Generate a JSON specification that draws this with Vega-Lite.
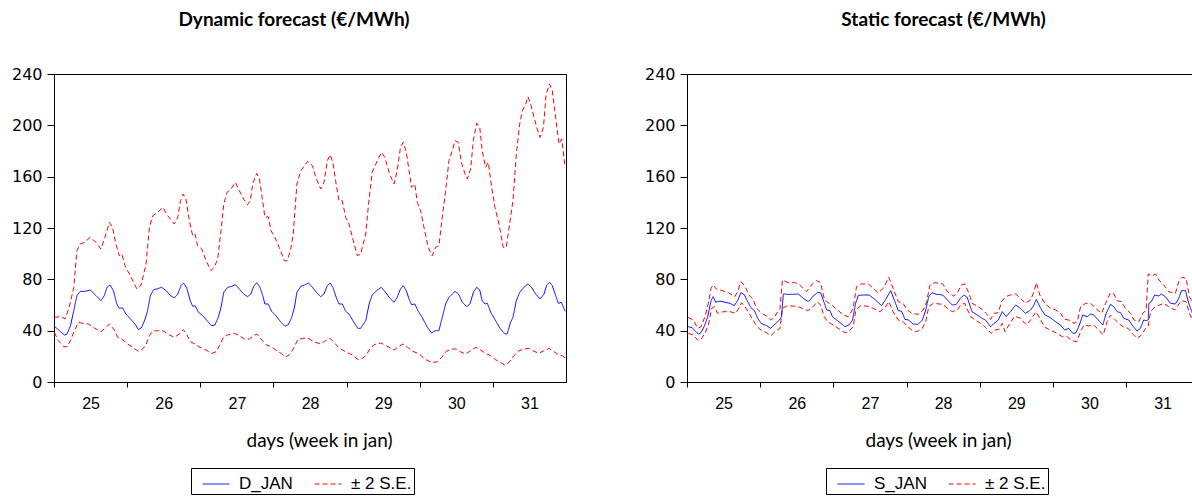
{
"$schema": "https://vega.github.io/schema/vega-lite/v6.json",
"padding": {"left": 10, "top": 10, "right": 0, "bottom": 0},
"background": "white",
"spacing": 76,
"config": {
  "view": {"stroke": "black", "strokeWidth": 1},
  "axis": {"grid": false, "domainColor": "black", "tickColor": "black", "labelColor": "black", "domainWidth": 1, "tickWidth": 1, "titleColor": "black"}
},
"resolve": {"scale": {"color": "independent", "strokeDash": "independent"}, "legend": {"color": "independent", "strokeDash": "independent"}},
"datasets": {
"dUp": [{"h":0.1,"v":50.4},{"h":2.3,"v":50.9},{"h":3.6,"v":49.1},{"h":5,"v":58.2},{"h":6.5,"v":73.8},{"h":7.5,"v":102.3},{"h":8.6,"v":107.5},{"h":10,"v":108.8},{"h":11.9,"v":112.7},{"h":13.8,"v":108.8},{"h":15.4,"v":103.6},{"h":16.7,"v":112.7},{"h":18.2,"v":124.4},{"h":19.2,"v":120.5},{"h":20.3,"v":107.5},{"h":21.4,"v":98.4},{"h":22.3,"v":99.7},{"h":23.3,"v":90.6},{"h":25.3,"v":81.6},{"h":27.2,"v":72.5},{"h":28.5,"v":75.1},{"h":30.2,"v":91.9},{"h":31.3,"v":120.5},{"h":32.4,"v":129.6},{"h":34,"v":132.2},{"h":35.7,"v":136.1},{"h":37.3,"v":129.6},{"h":39.5,"v":123.1},{"h":40.6,"v":128.3},{"h":41.5,"v":141.3},{"h":42.4,"v":146.5},{"h":43.3,"v":142.6},{"h":44.4,"v":125.7},{"h":45.5,"v":114},{"h":46.3,"v":115.3},{"h":47.1,"v":106.2},{"h":48.5,"v":103.6},{"h":49.9,"v":94.5},{"h":51.5,"v":86.8},{"h":52.6,"v":89.4},{"h":53.7,"v":95.8},{"h":54.8,"v":117.9},{"h":55.7,"v":138.7},{"h":56.8,"v":147.8},{"h":58.1,"v":150.4},{"h":59.5,"v":155.6},{"h":60.8,"v":149.1},{"h":62.2,"v":142.6},{"h":63.5,"v":138.2},{"h":64.4,"v":141.3},{"h":65.2,"v":154.3},{"h":66.5,"v":162.6},{"h":67.4,"v":158.2},{"h":68.3,"v":143.9},{"h":69.2,"v":128.3},{"h":70.3,"v":128.8},{"h":71.2,"v":117.9},{"h":72.5,"v":112.7},{"h":73.9,"v":104.9},{"h":75.6,"v":94.5},{"h":76.5,"v":94.5},{"h":77.6,"v":102.3},{"h":78.5,"v":115.3},{"h":79.7,"v":154.3},{"h":81,"v":164.7},{"h":83.2,"v":171.9},{"h":84.8,"v":168.6},{"h":85.9,"v":159.5},{"h":87.5,"v":150.4},{"h":88.6,"v":155.6},{"h":89.7,"v":172.5},{"h":90.6,"v":177.1},{"h":91.5,"v":171.2},{"h":92.4,"v":156.9},{"h":93.5,"v":141.3},{"h":94.6,"v":141.3},{"h":95.7,"v":128.3},{"h":96.8,"v":123.1},{"h":98.2,"v":110.1},{"h":99.5,"v":98.4},{"h":100.6,"v":99.7},{"h":102.3,"v":115.3},{"h":103.1,"v":136.1},{"h":104.4,"v":163.4},{"h":106.1,"v":172.5},{"h":107.5,"v":179},{"h":108.6,"v":174.8},{"h":110.1,"v":162.1},{"h":111.6,"v":154.3},{"h":112.6,"v":164.7},{"h":113.7,"v":182.9},{"h":114.6,"v":186.8},{"h":115.6,"v":179},{"h":116.5,"v":164.7},{"h":117.3,"v":151.7},{"h":118.4,"v":154.3},{"h":119.2,"v":140},{"h":120.3,"v":133.5},{"h":121.4,"v":120.5},{"h":122.8,"v":104.9},{"h":124.1,"v":98.4},{"h":125.2,"v":104.9},{"h":126.3,"v":106.2},{"h":127.4,"v":128.3},{"h":128.5,"v":149.1},{"h":129.6,"v":172.5},{"h":130.7,"v":180.3},{"h":131.6,"v":188.1},{"h":132.6,"v":186.8},{"h":133.8,"v":169.9},{"h":134.9,"v":162.1},{"h":135.6,"v":158.2},{"h":136.7,"v":166},{"h":137.6,"v":188.1},{"h":138.7,"v":201.6},{"h":139.7,"v":198.4},{"h":140.5,"v":180.3},{"h":141.6,"v":167.3},{"h":142.5,"v":171.2},{"h":143.6,"v":151.7},{"h":144.7,"v":136.1},{"h":146,"v":123.1},{"h":147.4,"v":104.9},{"h":148.4,"v":104.9},{"h":149.5,"v":123.1},{"h":150.6,"v":141.3},{"h":151.7,"v":177.7},{"h":152.8,"v":201},{"h":153.7,"v":211.4},{"h":154.8,"v":216.6},{"h":155.5,"v":222.3},{"h":156.4,"v":216.6},{"h":157.5,"v":206.2},{"h":158.4,"v":198.4},{"h":159.5,"v":190.6},{"h":160.6,"v":198.4},{"h":161.5,"v":224.4},{"h":162.6,"v":232.2},{"h":163.5,"v":227},{"h":164.6,"v":206.2},{"h":165.7,"v":185.5},{"h":166.6,"v":189.4},{"h":167.7,"v":167.3}],
"dMid": [{"h":0.1,"v":43.4},{"h":1.8,"v":40},{"h":3.4,"v":36.6},{"h":4.3,"v":37.4},{"h":5.4,"v":43.9},{"h":6.5,"v":55.6},{"h":7.5,"v":67.3},{"h":8.6,"v":70.6},{"h":10,"v":70.6},{"h":11.9,"v":71.7},{"h":13.8,"v":67.3},{"h":15.4,"v":63.4},{"h":16.5,"v":67.3},{"h":17.4,"v":73.8},{"h":18.4,"v":75.6},{"h":19.5,"v":71.2},{"h":20.6,"v":60.8},{"h":21.4,"v":57.4},{"h":22.5,"v":57.7},{"h":23.6,"v":53},{"h":25.3,"v":48.6},{"h":26.6,"v":45.2},{"h":27.7,"v":40.8},{"h":28.8,"v":42.6},{"h":29.9,"v":49.1},{"h":30.7,"v":55.6},{"h":31.6,"v":67.3},{"h":32.7,"v":71.9},{"h":34,"v":72.7},{"h":35.3,"v":73.8},{"h":36.8,"v":71.2},{"h":38.2,"v":67.3},{"h":39.5,"v":65.5},{"h":40.6,"v":68.6},{"h":41.7,"v":75.1},{"h":42.5,"v":77.1},{"h":43.5,"v":73.8},{"h":44.7,"v":63.4},{"h":45.5,"v":59},{"h":46.3,"v":59.5},{"h":47.4,"v":54.3},{"h":48.8,"v":51.7},{"h":50.2,"v":47.8},{"h":51.7,"v":43.9},{"h":52.8,"v":44.4},{"h":53.9,"v":50.4},{"h":54.8,"v":58.2},{"h":55.7,"v":69.9},{"h":57,"v":73.8},{"h":58.3,"v":74.5},{"h":59.5,"v":75.8},{"h":60.8,"v":72.5},{"h":62.2,"v":68.6},{"h":63.5,"v":66.5},{"h":64.6,"v":68.6},{"h":65.5,"v":74.5},{"h":66.5,"v":77.4},{"h":67.5,"v":74.3},{"h":68.5,"v":67.3},{"h":69.2,"v":60.8},{"h":70.3,"v":60.8},{"h":71.4,"v":55.1},{"h":72.8,"v":51.7},{"h":74.5,"v":46.5},{"h":75.8,"v":43.4},{"h":76.9,"v":44.7},{"h":78,"v":50.4},{"h":78.9,"v":58.2},{"h":79.7,"v":69.9},{"h":81,"v":74.5},{"h":82.2,"v":75.6},{"h":83.5,"v":77.1},{"h":84.8,"v":73.8},{"h":86.1,"v":69.9},{"h":87.5,"v":66.5},{"h":88.6,"v":68.6},{"h":89.7,"v":75.1},{"h":90.6,"v":77.1},{"h":91.5,"v":73.8},{"h":92.6,"v":66},{"h":93.5,"v":60.8},{"h":94.6,"v":60.8},{"h":95.7,"v":55.1},{"h":96.8,"v":53},{"h":98.4,"v":46.5},{"h":99.7,"v":41.8},{"h":100.6,"v":41.8},{"h":102.3,"v":47.8},{"h":103.4,"v":60.8},{"h":104.4,"v":67.8},{"h":105.9,"v":71.2},{"h":107.4,"v":73.8},{"h":108.8,"v":69.9},{"h":110.1,"v":65.5},{"h":111.6,"v":62.1},{"h":112.6,"v":66},{"h":113.7,"v":72.5},{"h":114.6,"v":75.1},{"h":115.6,"v":71.2},{"h":116.5,"v":64.7},{"h":117.3,"v":60.3},{"h":118.4,"v":60.8},{"h":119.5,"v":55.1},{"h":120.8,"v":50.4},{"h":122.5,"v":42.6},{"h":123.9,"v":38.2},{"h":125,"v":40},{"h":126.3,"v":40},{"h":127.4,"v":50.4},{"h":128.5,"v":60.8},{"h":129.6,"v":66},{"h":130.7,"v":68.6},{"h":131.6,"v":70.6},{"h":132.7,"v":68.6},{"h":134,"v":62.1},{"h":135.4,"v":58.7},{"h":136.5,"v":60.8},{"h":137.6,"v":69.9},{"h":138.7,"v":73.8},{"h":139.7,"v":71.7},{"h":140.5,"v":63.4},{"h":141.4,"v":60.8},{"h":142.2,"v":61.3},{"h":143.3,"v":54.3},{"h":144.9,"v":47.8},{"h":146.5,"v":41.3},{"h":148,"v":37.4},{"h":148.7,"v":37.4},{"h":149.8,"v":46.5},{"h":150.6,"v":50.4},{"h":151.7,"v":63.4},{"h":152.8,"v":69.9},{"h":154.2,"v":73.8},{"h":155.5,"v":76.4},{"h":156.7,"v":73.8},{"h":158,"v":68.6},{"h":159.5,"v":64.7},{"h":160.8,"v":68.6},{"h":161.6,"v":75.1},{"h":162.6,"v":77.7},{"h":163.5,"v":75.1},{"h":164.6,"v":67.3},{"h":165.5,"v":61.3},{"h":166.5,"v":62.1},{"h":167.7,"v":55.1}],
"dLo": [{"h":0.1,"v":38.7},{"h":1.4,"v":32.2},{"h":3.2,"v":27.5},{"h":4.3,"v":27.5},{"h":5.4,"v":32.2},{"h":6.7,"v":40},{"h":8,"v":46.5},{"h":9.4,"v":45.7},{"h":11.3,"v":45.2},{"h":13.2,"v":42.1},{"h":15.4,"v":39.2},{"h":16.8,"v":42.1},{"h":18.2,"v":45.2},{"h":19.8,"v":40.5},{"h":20.9,"v":34.8},{"h":22.2,"v":33.5},{"h":24.2,"v":29.6},{"h":26.1,"v":26.5},{"h":27.7,"v":23.9},{"h":29.1,"v":25.7},{"h":30.2,"v":29.1},{"h":31.3,"v":36.1},{"h":32.4,"v":39.7},{"h":34,"v":40},{"h":35.7,"v":40},{"h":37.3,"v":37.4},{"h":39.5,"v":34.8},{"h":41.1,"v":37.4},{"h":42.4,"v":40.8},{"h":43.5,"v":37.4},{"h":44.7,"v":31.4},{"h":46.3,"v":29.6},{"h":47.9,"v":27},{"h":49.9,"v":24.9},{"h":51.7,"v":22.3},{"h":53.2,"v":23.6},{"h":54.3,"v":28.3},{"h":55.6,"v":34.8},{"h":57.2,"v":36.9},{"h":59.2,"v":37.9},{"h":60.8,"v":36.1},{"h":62.5,"v":33.5},{"h":64.1,"v":33.5},{"h":65.5,"v":36.1},{"h":66.6,"v":37.4},{"h":67.9,"v":33.5},{"h":69.6,"v":29.1},{"h":71.2,"v":27.5},{"h":72.8,"v":24.9},{"h":74.5,"v":22.3},{"h":75.9,"v":19.7},{"h":76.9,"v":20.5},{"h":78.3,"v":24.9},{"h":80,"v":33},{"h":81.6,"v":34},{"h":83.2,"v":34.3},{"h":85.3,"v":31.4},{"h":87.5,"v":29.6},{"h":89.1,"v":32.2},{"h":90.6,"v":34},{"h":91.9,"v":30.9},{"h":93.5,"v":26.5},{"h":95.7,"v":23.6},{"h":97.9,"v":21},{"h":99.8,"v":17.4},{"h":101.2,"v":18.4},{"h":102.5,"v":21},{"h":103.6,"v":25.7},{"h":105,"v":29.1},{"h":107.2,"v":30.4},{"h":109,"v":28.3},{"h":111.6,"v":24.9},{"h":113,"v":27.5},{"h":114.5,"v":29.6},{"h":116,"v":27},{"h":117.8,"v":23.9},{"h":119.8,"v":21.8},{"h":121.7,"v":17.9},{"h":123.9,"v":15.1},{"h":125.8,"v":15.8},{"h":127.2,"v":19.2},{"h":128.7,"v":23.9},{"h":130.5,"v":25.7},{"h":131.8,"v":25.7},{"h":133.4,"v":23.6},{"h":135.1,"v":21.8},{"h":136.7,"v":24.4},{"h":138.4,"v":27},{"h":140,"v":24.9},{"h":141.6,"v":22.3},{"h":143.3,"v":20.5},{"h":144.9,"v":17.4},{"h":146.5,"v":15.3},{"h":148,"v":13.2},{"h":149.3,"v":15.3},{"h":150.9,"v":20.5},{"h":152.6,"v":24.4},{"h":154.2,"v":25.7},{"h":155.8,"v":26.2},{"h":157.5,"v":23.9},{"h":159.1,"v":22.3},{"h":160.8,"v":24.4},{"h":162.4,"v":26.2},{"h":164.1,"v":23.6},{"h":165.7,"v":21},{"h":166.8,"v":20.5},{"h":167.7,"v":18.7}],
"sMid": [{"h":0.4,"v":43.1},{"h":1.7,"v":42.3},{"h":2.6,"v":40},{"h":3.7,"v":37.4},{"h":4.6,"v":38.4},{"h":5.7,"v":43.6},{"h":6.8,"v":50.9},{"h":7.9,"v":63.4},{"h":8.6,"v":66.5},{"h":9.4,"v":62.1},{"h":10.8,"v":63.1},{"h":12.5,"v":62.1},{"h":14.1,"v":61.3},{"h":15.5,"v":59.5},{"h":16.6,"v":63.4},{"h":17.7,"v":69.6},{"h":18.8,"v":68.1},{"h":19.9,"v":62.6},{"h":21,"v":57.9},{"h":22.1,"v":55.6},{"h":23.2,"v":49.6},{"h":24.3,"v":45.7},{"h":26.1,"v":43.9},{"h":27.5,"v":41.8},{"h":28.9,"v":45.2},{"h":30.3,"v":48.3},{"h":31,"v":50.9},{"h":31.6,"v":68.6},{"h":33.2,"v":68.3},{"h":34.9,"v":68.3},{"h":36.5,"v":68.6},{"h":38.1,"v":65.2},{"h":39.8,"v":62.6},{"h":41.4,"v":67},{"h":42.8,"v":69.6},{"h":43.8,"v":69.6},{"h":44.7,"v":63.9},{"h":45.8,"v":56.1},{"h":46.9,"v":55.6},{"h":47.7,"v":50.9},{"h":49.1,"v":48.3},{"h":50.5,"v":45.7},{"h":51.8,"v":43.1},{"h":53.1,"v":44.4},{"h":54.3,"v":48.3},{"h":55.3,"v":61.3},{"h":56.2,"v":67.5},{"h":57.8,"v":67.8},{"h":59.7,"v":67.8},{"h":61.6,"v":64.4},{"h":63.8,"v":59.5},{"h":65.2,"v":64.4},{"h":66.8,"v":71.2},{"h":68.2,"v":62.6},{"h":69.3,"v":55.6},{"h":70.4,"v":55.1},{"h":71.5,"v":48.8},{"h":72.6,"v":48.3},{"h":74.2,"v":45.2},{"h":75.8,"v":44.9},{"h":77.2,"v":48.3},{"h":78.3,"v":56.1},{"h":79.3,"v":66.5},{"h":80.4,"v":69.6},{"h":81.9,"v":68.3},{"h":83.9,"v":67.8},{"h":85.4,"v":63.9},{"h":87,"v":60},{"h":88.3,"v":60.5},{"h":89.7,"v":65.2},{"h":90.8,"v":67.8},{"h":91.9,"v":66},{"h":93.5,"v":54.8},{"h":95.2,"v":52.2},{"h":96.8,"v":49.6},{"h":97.9,"v":48.3},{"h":99.6,"v":43.1},{"h":100.7,"v":45.7},{"h":102.1,"v":48.3},{"h":103.4,"v":54.8},{"h":104.7,"v":50.9},{"h":106.1,"v":54.8},{"h":107.8,"v":60},{"h":109.4,"v":57.4},{"h":111,"v":53.5},{"h":112.7,"v":56.1},{"h":113.8,"v":60},{"h":114.6,"v":64.4},{"h":115.7,"v":58.7},{"h":117.4,"v":52.2},{"h":118.7,"v":50.9},{"h":120.9,"v":47},{"h":122.5,"v":44.4},{"h":123.9,"v":40.5},{"h":125.2,"v":41.8},{"h":126.6,"v":37.9},{"h":127.6,"v":38.4},{"h":128.7,"v":44.4},{"h":129.8,"v":52.2},{"h":131.3,"v":50.9},{"h":132.4,"v":53},{"h":133.4,"v":52.2},{"h":134.9,"v":48.3},{"h":136.4,"v":44.4},{"h":137.5,"v":53.5},{"h":138.9,"v":60.5},{"h":140,"v":58.7},{"h":141.1,"v":54.8},{"h":142.2,"v":54},{"h":143.3,"v":49.6},{"h":144.9,"v":48.3},{"h":146,"v":44.4},{"h":147.6,"v":39.7},{"h":148.7,"v":41.8},{"h":149.8,"v":48.3},{"h":150.6,"v":47.8},{"h":151.3,"v":48.3},{"h":151.5,"v":61.3},{"h":152.3,"v":62.6},{"h":153.4,"v":67.8},{"h":154.8,"v":67},{"h":155.6,"v":68.6},{"h":156.9,"v":66.5},{"h":158.6,"v":61.3},{"h":160.2,"v":60.8},{"h":161.3,"v":65.2},{"h":162.2,"v":71.2},{"h":163.5,"v":71.2},{"h":164.6,"v":61.3},{"h":165.7,"v":54},{"h":166.8,"v":54}],
"sUp": [{"h":0.4,"v":50.4},{"h":2.1,"v":48.3},{"h":3.5,"v":41.8},{"h":4.6,"v":43.1},{"h":5.9,"v":50.9},{"h":7,"v":61.3},{"h":7.9,"v":73},{"h":8.6,"v":75.6},{"h":9.7,"v":72.2},{"h":11.6,"v":71.2},{"h":13.6,"v":69.6},{"h":15.7,"v":66.5},{"h":16.6,"v":70.4},{"h":17.7,"v":78.2},{"h":19,"v":74.8},{"h":20.3,"v":67.8},{"h":21.7,"v":64.4},{"h":22.8,"v":57.4},{"h":24.5,"v":53.5},{"h":26.1,"v":51.4},{"h":27.5,"v":48.3},{"h":28.9,"v":51.4},{"h":30.5,"v":57.4},{"h":31.3,"v":79.5},{"h":33.2,"v":77.4},{"h":35.4,"v":77.4},{"h":37,"v":75.6},{"h":39.2,"v":70.4},{"h":41.1,"v":76.4},{"h":42.5,"v":79},{"h":43.8,"v":77.4},{"h":45,"v":65.2},{"h":45.8,"v":62.6},{"h":47.4,"v":60},{"h":49.4,"v":56.1},{"h":51.3,"v":52.2},{"h":52.9,"v":50.9},{"h":54.5,"v":57.4},{"h":55.6,"v":74.3},{"h":57.3,"v":76.4},{"h":59.5,"v":76.4},{"h":61.1,"v":73},{"h":62.7,"v":69.6},{"h":64.4,"v":73},{"h":66.2,"v":81.6},{"h":67.6,"v":73},{"h":69.3,"v":62.6},{"h":70.9,"v":61.3},{"h":72,"v":56.6},{"h":73.7,"v":53.5},{"h":75.8,"v":52.7},{"h":77.5,"v":56.1},{"h":78.6,"v":62.6},{"h":79.7,"v":75.6},{"h":81.3,"v":77.4},{"h":83.9,"v":76.4},{"h":85.4,"v":70.4},{"h":87.5,"v":67},{"h":88.6,"v":69.1},{"h":90,"v":75.6},{"h":91.1,"v":76.4},{"h":92.5,"v":69.1},{"h":93.5,"v":61.3},{"h":95.2,"v":59.2},{"h":96.8,"v":56.6},{"h":98.1,"v":53.5},{"h":99.6,"v":48.8},{"h":100.7,"v":53.5},{"h":102.1,"v":54},{"h":103.2,"v":62.6},{"h":104.5,"v":66.5},{"h":106.1,"v":67.8},{"h":107.8,"v":68.6},{"h":109.4,"v":65.2},{"h":111,"v":61.3},{"h":112.7,"v":63.9},{"h":113.8,"v":70.4},{"h":114.6,"v":77.4},{"h":115.7,"v":67.8},{"h":117.4,"v":61.3},{"h":119,"v":57.9},{"h":120.9,"v":56.1},{"h":122.5,"v":53.5},{"h":123.9,"v":48.8},{"h":125.2,"v":48.3},{"h":126.9,"v":45.7},{"h":128,"v":47},{"h":129.1,"v":58.7},{"h":130.7,"v":61.3},{"h":132.4,"v":61.3},{"h":134,"v":57.4},{"h":136,"v":53.5},{"h":137.3,"v":61.3},{"h":138.9,"v":69.6},{"h":140,"v":68.6},{"h":141.1,"v":63.4},{"h":142.5,"v":62.6},{"h":143.8,"v":57.4},{"h":145.5,"v":53.5},{"h":146.6,"v":48.3},{"h":148.2,"v":47},{"h":149.5,"v":53.5},{"h":150.6,"v":56.1},{"h":151.3,"v":84.2},{"h":152.6,"v":82.6},{"h":153.7,"v":84.2},{"h":154.8,"v":79.5},{"h":156.4,"v":75.6},{"h":158,"v":70.4},{"h":160.2,"v":69.1},{"h":161.3,"v":78.2},{"h":162.4,"v":81.6},{"h":163.7,"v":80.8},{"h":164.8,"v":66.5},{"h":165.9,"v":61.8},{"h":166.8,"v":61.3}],
"sLo": [{"h":0.4,"v":37.9},{"h":2.1,"v":36.6},{"h":3.7,"v":32.2},{"h":4.8,"v":34},{"h":5.9,"v":37.9},{"h":7,"v":44.4},{"h":8.1,"v":57.4},{"h":9,"v":58.7},{"h":10,"v":53.5},{"h":11.9,"v":54.8},{"h":14.1,"v":54.8},{"h":16,"v":53.5},{"h":16.8,"v":56.6},{"h":17.9,"v":61.8},{"h":19,"v":58.7},{"h":20.7,"v":52.2},{"h":22.3,"v":45.7},{"h":23.9,"v":41},{"h":26.1,"v":38.4},{"h":27.5,"v":36.1},{"h":28.9,"v":39.2},{"h":30.5,"v":41.8},{"h":31.3,"v":57.4},{"h":32.7,"v":59.2},{"h":34.9,"v":59.2},{"h":37,"v":58.2},{"h":39.6,"v":55.6},{"h":41.4,"v":58.7},{"h":42.7,"v":62.6},{"h":43.8,"v":60},{"h":45,"v":50.9},{"h":46.1,"v":47},{"h":48,"v":44.4},{"h":49.6,"v":41.8},{"h":51.8,"v":38.4},{"h":52.9,"v":39.2},{"h":54.5,"v":43.1},{"h":55.4,"v":56.1},{"h":56.7,"v":59.2},{"h":58.9,"v":59.2},{"h":61.1,"v":57.4},{"h":63.3,"v":54.8},{"h":65,"v":58.2},{"h":66.2,"v":62.6},{"h":67.6,"v":54.8},{"h":69.3,"v":48.3},{"h":70.9,"v":47},{"h":72.4,"v":43.1},{"h":73.7,"v":40.5},{"h":75.4,"v":39.2},{"h":77.2,"v":41.8},{"h":78.3,"v":47},{"h":79.3,"v":58.7},{"h":80.8,"v":61.3},{"h":83.9,"v":60.5},{"h":85.4,"v":57.4},{"h":87,"v":54.8},{"h":88.6,"v":56.1},{"h":90,"v":60.5},{"h":91.1,"v":61.3},{"h":93,"v":50.9},{"h":94.6,"v":48.3},{"h":96.6,"v":45.2},{"h":97.9,"v":42.6},{"h":99.8,"v":37.9},{"h":101,"v":40.5},{"h":102.3,"v":41},{"h":103.4,"v":45.7},{"h":104.3,"v":39.2},{"h":105.6,"v":44.4},{"h":107.5,"v":51.4},{"h":109.4,"v":49.6},{"h":111.3,"v":44.4},{"h":112.7,"v":48.3},{"h":114.5,"v":54.8},{"h":115.9,"v":48.8},{"h":117.4,"v":42.6},{"h":119.2,"v":40.5},{"h":121.4,"v":37.9},{"h":123.1,"v":35.3},{"h":124.7,"v":35.3},{"h":126.3,"v":32.2},{"h":127.8,"v":31.4},{"h":129.1,"v":39.2},{"h":130.2,"v":44.4},{"h":131.8,"v":43.6},{"h":133.4,"v":44.4},{"h":135.1,"v":40.5},{"h":136.5,"v":36.6},{"h":137.8,"v":47},{"h":138.9,"v":52.2},{"h":140.3,"v":48.8},{"h":141.6,"v":45.7},{"h":143.3,"v":42.6},{"h":144.7,"v":41.8},{"h":146,"v":37.9},{"h":147.6,"v":34},{"h":149.1,"v":36.6},{"h":150.4,"v":41.8},{"h":151.3,"v":43.6},{"h":152,"v":54.8},{"h":153.4,"v":58.2},{"h":155,"v":60},{"h":156.4,"v":61.3},{"h":158,"v":58.7},{"h":160,"v":56.1},{"h":161.1,"v":60},{"h":162.2,"v":63.4},{"h":163.7,"v":62.6},{"h":164.8,"v":53.5},{"h":165.9,"v":47.8},{"h":166.8,"v":47}]
},
"hconcat": [
{
  "width": 512, "height": 308,
  "title": {"text": "Dynamic forecast (€/MWh)", "font": "Lato", "fontSize": 19, "fontWeight": "bold", "color": "black", "offset": 36, "dx": -16},
  "encoding": {
    "x": {"field": "h", "type": "quantitative", "scale": {"domain": [0, 168], "nice": false, "zero": false},
      "axis": {"values": [0, 24, 48, 72, 96, 120, 144], "labelExpr": "'' + (datum.value / 24 + 25)", "labelOffset": 36.6, "labelFlush": false, "labelOverlap": false, "labelFont": "Liberation Sans", "labelFontSize": 16, "labelPadding": 8, "tickSize": 5, "title": "days (week in jan)", "titleFont": "Lato", "titleFontSize": 19, "titleFontWeight": "normal", "titlePadding": 20, "titleX": 265, "titleAlign": "center"}},
    "y": {"field": "v", "type": "quantitative", "scale": {"domain": [0, 240], "nice": false},
      "axis": {"values": [0, 40, 80, 120, 160, 200, 240], "labelFont": "DejaVu Sans", "labelFontSize": 16, "labelPadding": 5, "tickSize": 7, "title": null}}
  },
  "layer": [
    {"data": {"name": "dUp"}, "mark": {"type": "line", "strokeWidth": 1, "clip": true},
     "encoding": {
       "color": {"datum": "± 2 S.E.", "scale": {"domain": ["D_JAN", "± 2 S.E."], "range": ["#0000ff", "#ff0000"]},
         "legend": {"title": null, "orient": "none", "legendX": 137, "legendY": 394, "direction": "horizontal", "symbolType": "stroke", "symbolSize": 729, "symbolStrokeWidth": 1, "labelFont": "Liberation Sans", "labelFontSize": 17, "labelColor": "black", "labelOffset": 9, "columnPadding": 12, "padding": 2, "strokeColor": "black", "fillColor": "white", "symbolOffset": 9}},
       "strokeDash": {"datum": "± 2 S.E.", "scale": {"domain": ["D_JAN", "± 2 S.E."], "range": [[1, 0], [5, 3]]},
         "legend": {"title": null, "orient": "none", "legendX": 137, "legendY": 394, "direction": "horizontal", "symbolType": "stroke", "symbolSize": 729, "symbolStrokeWidth": 1, "labelFont": "Liberation Sans", "labelFontSize": 17, "labelColor": "black", "labelOffset": 9, "columnPadding": 12, "padding": 2, "strokeColor": "black", "fillColor": "white", "symbolOffset": 9}}
     }},
    {"data": {"name": "dLo"}, "mark": {"type": "line", "strokeWidth": 1, "clip": true},
     "encoding": {"color": {"datum": "± 2 S.E."}, "strokeDash": {"datum": "± 2 S.E."}}},
    {"data": {"name": "dMid"}, "mark": {"type": "line", "strokeWidth": 1, "clip": true},
     "encoding": {"color": {"datum": "D_JAN"}, "strokeDash": {"datum": "D_JAN"}}}
  ]
},
{
  "width": 507, "height": 308,
  "title": {"text": "Static forecast (€/MWh)", "font": "Lato", "fontSize": 19, "fontWeight": "bold", "color": "black", "offset": 36, "dx": 3},
  "encoding": {
    "x": {"field": "h", "type": "quantitative", "scale": {"domain": [0, 166.3], "nice": false, "zero": false},
      "axis": {"values": [0, 24, 48, 72, 96, 120, 144], "labelExpr": "'' + (datum.value / 24 + 25)", "labelOffset": 36.6, "labelFlush": false, "labelOverlap": false, "labelFont": "Liberation Sans", "labelFontSize": 16, "labelPadding": 8, "tickSize": 5, "title": "days (week in jan)", "titleFont": "Lato", "titleFontSize": 19, "titleFontWeight": "normal", "titlePadding": 20, "titleX": 251, "titleAlign": "center"}},
    "y": {"field": "v", "type": "quantitative", "scale": {"domain": [0, 240], "nice": false},
      "axis": {"values": [0, 40, 80, 120, 160, 200, 240], "labelFont": "DejaVu Sans", "labelFontSize": 16, "labelPadding": 5, "tickSize": 7, "title": null}}
  },
  "layer": [
    {"data": {"name": "sUp"}, "mark": {"type": "line", "strokeWidth": 1, "clip": true},
     "encoding": {
       "color": {"datum": "± 2 S.E.", "scale": {"domain": ["S_JAN", "± 2 S.E."], "range": ["#0000ff", "#ff0000"]},
         "legend": {"title": null, "orient": "none", "legendX": 139, "legendY": 394, "direction": "horizontal", "symbolType": "stroke", "symbolSize": 729, "symbolStrokeWidth": 1, "labelFont": "Liberation Sans", "labelFontSize": 17, "labelColor": "black", "labelOffset": 9, "columnPadding": 12, "padding": 2, "strokeColor": "black", "fillColor": "white", "symbolOffset": 9}},
       "strokeDash": {"datum": "± 2 S.E.", "scale": {"domain": ["S_JAN", "± 2 S.E."], "range": [[1, 0], [5, 3]]},
         "legend": {"title": null, "orient": "none", "legendX": 139, "legendY": 394, "direction": "horizontal", "symbolType": "stroke", "symbolSize": 729, "symbolStrokeWidth": 1, "labelFont": "Liberation Sans", "labelFontSize": 17, "labelColor": "black", "labelOffset": 9, "columnPadding": 12, "padding": 2, "strokeColor": "black", "fillColor": "white", "symbolOffset": 9}}
     }},
    {"data": {"name": "sLo"}, "mark": {"type": "line", "strokeWidth": 1, "clip": true},
     "encoding": {"color": {"datum": "± 2 S.E."}, "strokeDash": {"datum": "± 2 S.E."}}},
    {"data": {"name": "sMid"}, "mark": {"type": "line", "strokeWidth": 1, "clip": true},
     "encoding": {"color": {"datum": "S_JAN"}, "strokeDash": {"datum": "S_JAN"}}}
  ]
}
]
}
